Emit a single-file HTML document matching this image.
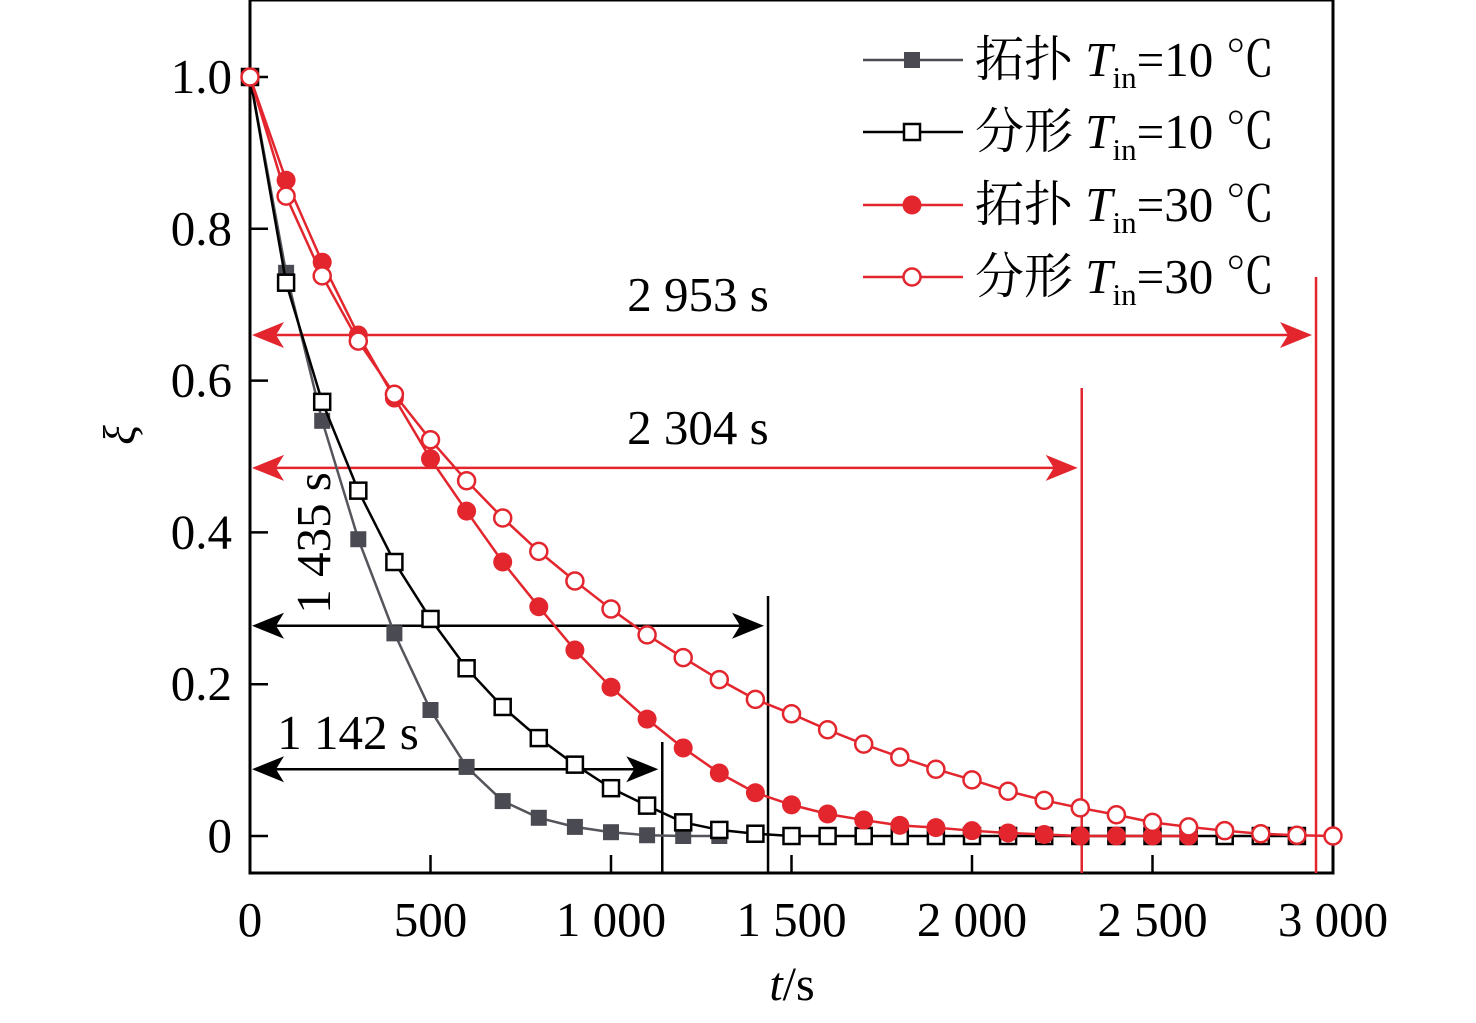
<!DOCTYPE html>
<html><head><meta charset="utf-8"><style>
html,body{margin:0;padding:0;background:#fff}
svg text{font-family:"Liberation Serif","Noto Serif CJK SC",serif}
</style></head><body>
<svg id="chart" width="1476" height="1018" viewBox="0 0 1476 1018" xmlns="http://www.w3.org/2000/svg"></svg>
<script>
const times = [0,100,200,300,400,500,600,700,800,900,1000,1100,1200,1300,1400,1500,1600,1700,1800,1900,2000,2100,2200,2300,2400,2500,2600,2700,2800,2900,3000];
const topo10 = [1,0.742,0.547,0.391,0.267,0.166,0.091,0.046,0.024,0.012,0.005,0.001,0,0];
const frac10 = [1,0.729,0.572,0.455,0.361,0.286,0.221,0.170,0.129,0.094,0.063,0.040,0.018,0.008,0.003,0,0,0,0,0,0,0,0,0,0,0,0,0,0,0];
const topo30 = [1,0.864,0.756,0.660,0.577,0.497,0.428,0.361,0.302,0.245,0.196,0.154,0.116,0.083,0.057,0.041,0.029,0.021,0.014,0.011,0.007,0.004,0.002,0,0,0,0];
const frac30 = [1,0.843,0.738,0.652,0.582,0.522,0.468,0.419,0.375,0.336,0.299,0.265,0.235,0.206,0.180,0.161,0.140,0.121,0.104,0.088,0.074,0.059,0.047,0.037,0.028,0.018,0.012,0.007,0.003,0.001,0];
const xTicks = [0,500,1000,1500,2000,2500,3000];
const xTickLabels = ["0","500","1 000","1 500","2 000","2 500","3 000"];
const yTicks = [0,0.2,0.4,0.6,0.8,1.0];
const yTickLabels = ["0","0.2","0.4","0.6","0.8","1.0"];
const spans = [2953,2304,1435,1142];
const spanLabels = ["2 953 s","2 304 s","1 435 s","1 142 s"];
const spanY = [0.66,0.485,0.277,0.088];

const X = t => 250 + t*0.361;
const Y = v => 836 - v*759;
const svg = document.getElementById('chart');
const NS = 'http://www.w3.org/2000/svg';
function mk(tag, attrs, parent){const e=document.createElementNS(NS,tag);for(const k in attrs)e.setAttribute(k,attrs[k]);(parent||svg).appendChild(e);return e;}

let frame = mk('rect',{x:250,y:0,width:1083,height:873,fill:'none',stroke:'#000','stroke-width':3});



xTicks.forEach((t,i)=>{
  let l = mk('line',{x1:X(t),x2:X(t),y1:873,y2:855,stroke:'#000','stroke-width':2.5});
  
  
  let tx = mk('text',{x:X(t),y:936,'font-size':49,'text-anchor':'middle'});
  tx.textContent = xTickLabels[i];
  
  
});
yTicks.forEach((v,i)=>{
  let l = mk('line',{x1:250,x2:268,y1:Y(v),y2:Y(v),stroke:'#000','stroke-width':2.5});
  
  
  let tx = mk('text',{x:232,y:Y(v)+16,'font-size':49,'text-anchor':'end'});
  tx.textContent = yTickLabels[i];
  
  
});
let xt = mk('text',{x:792,y:1000,'font-size':48,'text-anchor':'middle'});
xt.innerHTML = '<tspan font-style="italic">t</tspan>/s';


let yt = mk('text',{x:125,y:445,'font-size':46,'text-anchor':'middle','font-style':'italic',transform:'rotate(-90 125 435)'});
yt.textContent = 'ξ';



const annColors = ['#e3262e','#e3262e','#000','#000'];
const vTop = [277,388,596,742];
spans.forEach((s,i)=>{
  const c = annColors[i], y = Y(spanY[i]), xe = X(s);
  let g = mk('g',{});
  
  
  mk('line',{x1:xe,x2:xe,y1:vTop[i],y2:873,stroke:c,'stroke-width':2.5},g);
  mk('line',{x1:255,x2:xe-8,y1:y,y2:y,stroke:c,'stroke-width':2.5},g);
  mk('path',{d:`M252 ${y} L284 ${y-13} L276 ${y} L284 ${y+13} Z`,fill:c},g);
  mk('path',{d:`M${xe-4} ${y} L${xe-36} ${y-13} L${xe-28} ${y} L${xe-36} ${y+13} Z`,fill:c},g);
  let tx;
  if(i<2){ tx = mk('text',{x:(250+xe)/2+(i==0?-85:32),y:y-24,'font-size':49,'text-anchor':'middle'},g); }
  else if(i==2){ tx = mk('text',{x:313,y:560,'font-size':49,'text-anchor':'middle',transform:'rotate(-90 313 543)'},g); }
  else { tx = mk('text',{x:348,y:749,'font-size':49,'text-anchor':'middle'},g); }
  tx.textContent = spanLabels[i];
});

function series(vals,color,lineColor,shape,filled,name){
  let g = mk('g',{});
  
  
  const pts = vals.map((v,i)=>X(times[i])+','+Y(v)).join(' ');
  mk('polyline',{points:pts,fill:'none',stroke:lineColor,'stroke-width':2.5},g);
  vals.forEach((v,i)=>marker(g,X(times[i]),Y(v),color,shape,filled));
}
function marker(g,x,y,color,shape,filled){
  if(shape==='sq') mk('rect',{x:x-8,y:y-8,width:16,height:16,fill:filled?color:'#fff',stroke:color,'stroke-width':filled?0:2.5},g);
  else mk('circle',{cx:x,cy:y,r:filled?9.5:8.5,fill:filled?color:'#fff',stroke:color,'stroke-width':filled?0:2.5},g);
}
series(topo10,'#4a4a52','#55555c','sq',true,'series-topology-10');
series(frac10,'#000','#000','sq',false,'series-fractal-10');
series(topo30,'#e3262e','#e3262e','c',true,'series-topology-30');
series(frac30,'#e3262e','#e3262e','c',false,'series-fractal-30');

const legNames = ['拓扑','分形','拓扑','分形'];
const legTemp = ['10','10','30','30'];
const legCol = ['#4a4a52','#000','#e3262e','#e3262e'];
const legShape = ['sq','sq','c','c'];
const legFill = [true,false,true,false];
[60,132,205,277].forEach((y,i)=>{
  let g = mk('g',{});
  
  
  mk('line',{x1:863,x2:963,y1:y,y2:y,stroke:legCol[i],'stroke-width':2.5},g);
  marker(g,912,y,legCol[i],legShape[i],legFill[i]);
  let t = mk('text',{x:975,y:y+16,'font-size':49},g);
  t.innerHTML = legNames[i]+' <tspan font-style="italic">T</tspan><tspan font-size="31" dy="12">in</tspan><tspan dy="-12">='+legTemp[i]+' ℃</tspan>';
});
</script>
</body></html>
